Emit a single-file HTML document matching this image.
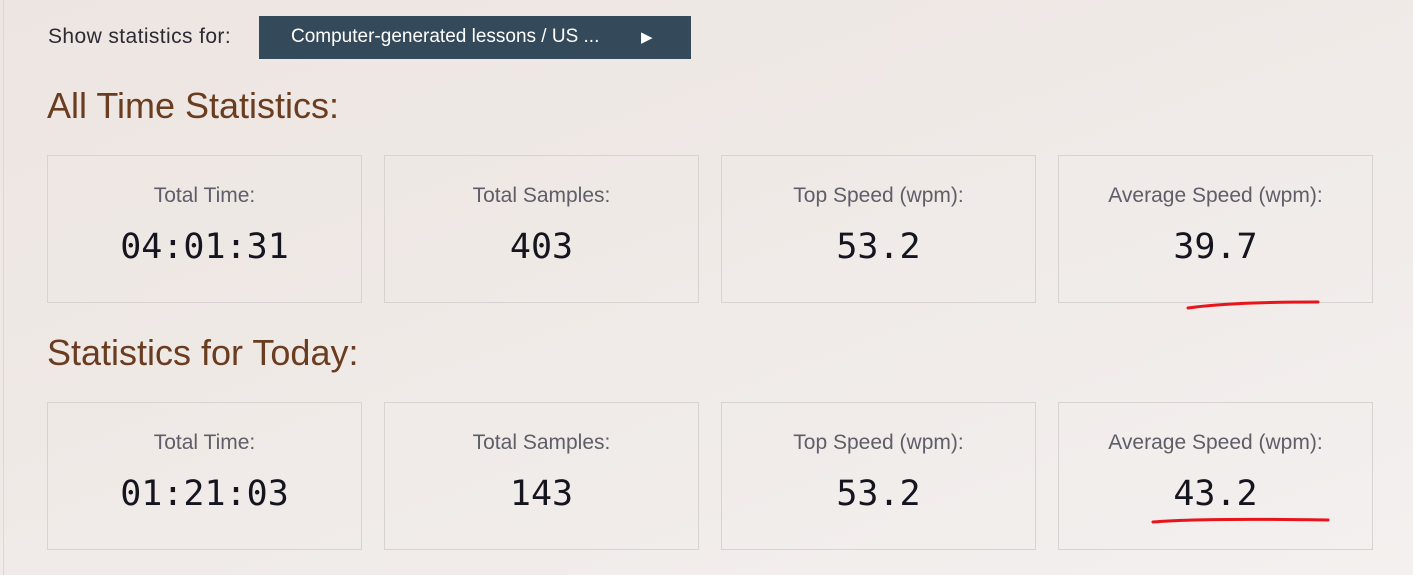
<!DOCTYPE html>
<html><head><meta charset="utf-8"><style>
html,body{margin:0;padding:0;width:1413px;height:575px;overflow:hidden;}
body{background:linear-gradient(160deg,#ede5e1 0%,#efe9e6 40%,#f3f0ef 100%);font-family:"Liberation Sans",sans-serif;position:relative;}
.vline{position:absolute;left:3px;top:0;width:1px;height:575px;background:#ddd6d3;}
.show{position:absolute;left:48px;top:25px;font-size:21px;letter-spacing:0.4px;color:#2b2b33;}
.btn{position:absolute;left:259px;top:16px;width:432px;height:43px;background:#34495a;color:#fff;font-size:19px;}
.btn span{position:absolute;left:32px;top:10px;}
.btn i{position:absolute;left:382px;top:12px;font-style:normal;font-size:15px;}
h2{position:absolute;left:47px;margin:0;font-weight:normal;font-size:36px;color:#6a3c20;}
.card{position:absolute;width:315px;height:148px;border:1px solid #d8d3d1;box-sizing:border-box;text-align:center;}
.lab{position:absolute;left:0;right:0;top:28px;font-size:21px;color:#5e5d68;}
.val{position:absolute;left:0;right:0;top:71px;font-family:"DejaVu Sans Mono","Liberation Mono",monospace;font-size:35px;color:#15151f;}
</style></head><body>
<div class="vline"></div>
<div class="show">Show statistics for:</div>
<div class="btn"><span>Computer-generated lessons / US ...</span><i>▶</i></div>
<h2 style="top:85px">All Time Statistics:</h2>
<h2 style="top:332px">Statistics for Today:</h2>

<div class="card" style="left:47px;top:155px"><div class="lab">Total Time:</div><div class="val">04:01:31</div></div>
<div class="card" style="left:384px;top:155px"><div class="lab">Total Samples:</div><div class="val">403</div></div>
<div class="card" style="left:721px;top:155px"><div class="lab">Top Speed (wpm):</div><div class="val">53.2</div></div>
<div class="card" style="left:1058px;top:155px"><div class="lab">Average Speed (wpm):</div><div class="val">39.7</div></div>

<div class="card" style="left:47px;top:402px"><div class="lab">Total Time:</div><div class="val">01:21:03</div></div>
<div class="card" style="left:384px;top:402px"><div class="lab">Total Samples:</div><div class="val">143</div></div>
<div class="card" style="left:721px;top:402px"><div class="lab">Top Speed (wpm):</div><div class="val">53.2</div></div>
<div class="card" style="left:1058px;top:402px"><div class="lab">Average Speed (wpm):</div><div class="val">43.2</div></div>

<svg style="position:absolute;left:0;top:0" width="1413" height="575">
<path d="M1188 308 Q1230 302 1318 302" stroke="#e8141c" stroke-width="3" fill="none" stroke-linecap="round"/>
<path d="M1153 522 Q1200 518 1328 520" stroke="#e8141c" stroke-width="3" fill="none" stroke-linecap="round"/>
</svg>
</body></html>
